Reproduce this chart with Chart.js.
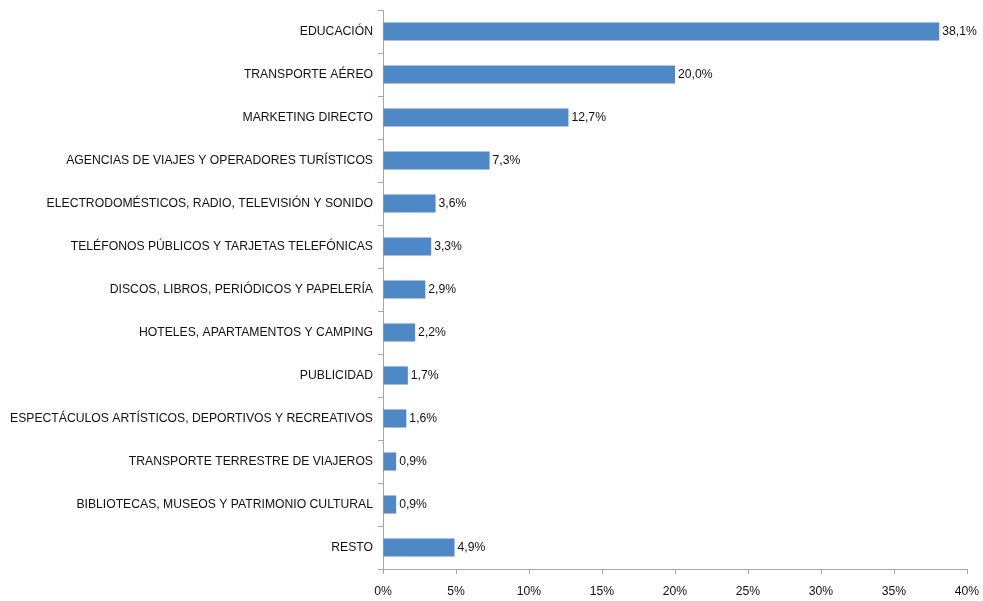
<!DOCTYPE html>
<html>
<head>
<meta charset="utf-8">
<script src="https://cdn.jsdelivr.net/npm/chart.js@4"></script>
<style>
  html, body { margin: 0; padding: 0; background: #fff; }
  #wrap { width: 983px; height: 601px; }
</style>
</head>
<body>
<div id="wrap"><canvas id="grafico" width="983" height="601"></canvas></div>
<script>
const categorias = [
    'EDUCACIÓN',
    'TRANSPORTE AÉREO',
    'MARKETING DIRECTO',
    'AGENCIAS DE VIAJES Y OPERADORES TURÍSTICOS',
    'ELECTRODOMÉSTICOS, RADIO, TELEVISIÓN Y SONIDO',
    'TELÉFONOS PÚBLICOS Y TARJETAS TELEFÓNICAS',
    'DISCOS, LIBROS, PERIÓDICOS Y PAPELERÍA',
    'HOTELES, APARTAMENTOS Y CAMPING',
    'PUBLICIDAD',
    'ESPECTÁCULOS ARTÍSTICOS, DEPORTIVOS Y RECREATIVOS',
    'TRANSPORTE TERRESTRE DE VIAJEROS',
    'BIBLIOTECAS, MUSEOS Y PATRIMONIO CULTURAL',
    'RESTO'
];
const porcentajes = [38.1, 20.0, 12.7, 7.3, 3.6, 3.3, 2.9, 2.2, 1.7, 1.6, 0.9, 0.9, 4.9];
const ejeMin = 0;
const ejeMax = 40;
const ejePaso = 5;

const fuente = { family: '"Liberation Sans", Arial, sans-serif', size: 12.2 };

function formatoPct(v) {
    return v.toFixed(1).replace('.', ',') + '%';
}

// etiquetas de valor a la derecha de cada barra
const etiquetasValor = {
    id: 'etiquetasValor',
    afterDatasetsDraw(chart) {
        const ctx = chart.ctx;
        const meta = chart.getDatasetMeta(0);
        ctx.save();
        ctx.font = '12.2px "Liberation Sans", Arial, sans-serif';
        ctx.fillStyle = '#111';
        ctx.textBaseline = 'middle';
        ctx.textAlign = 'left';
        meta.data.forEach((bar, i) => {
            ctx.fillText(formatoPct(porcentajes[i]), bar.x + 3, bar.y);
        });
        ctx.restore();
    }
};

const ctx = document.getElementById('grafico').getContext('2d');
new Chart(ctx, {
    type: 'bar',
    data: {
        labels: categorias,
        datasets: [{
            data: porcentajes,
            backgroundColor: '#4F88C7',
            borderWidth: 0,
            barPercentage: 0.42,
            categoryPercentage: 1.0
        }]
    },
    options: {
        indexAxis: 'y',
        responsive: false,
        animation: false,
        layout: { padding: { top: 10, right: 16, left: 0, bottom: 0 } },
        plugins: {
            legend: { display: false },
            tooltip: { enabled: false }
        },
        scales: {
            x: {
                min: ejeMin,
                max: ejeMax,
                ticks: {
                    stepSize: ejePaso,
                    color: '#111',
                    font: fuente,
                    padding: 10,
                    callback: v => v + '%'
                },
                grid: { drawOnChartArea: false, color: '#A6A6A6', tickLength: 5 },
                border: { color: '#A6A6A6' },
                afterFit: s => { s.height = 32; s.paddingLeft = 0; s.paddingRight = 0; }
            },
            y: {
                ticks: {
                    color: '#111',
                    font: fuente,
                    padding: 5,
                    autoSkip: false
                },
                grid: { drawOnChartArea: false, offset: true, color: '#A6A6A6', tickLength: 5 },
                border: { color: '#A6A6A6' },
                afterFit: s => { s.width = 383; s.paddingTop = 0; s.paddingBottom = 0; }
            }
        }
    },
    plugins: [etiquetasValor]
});
</script>
</body>
</html>
